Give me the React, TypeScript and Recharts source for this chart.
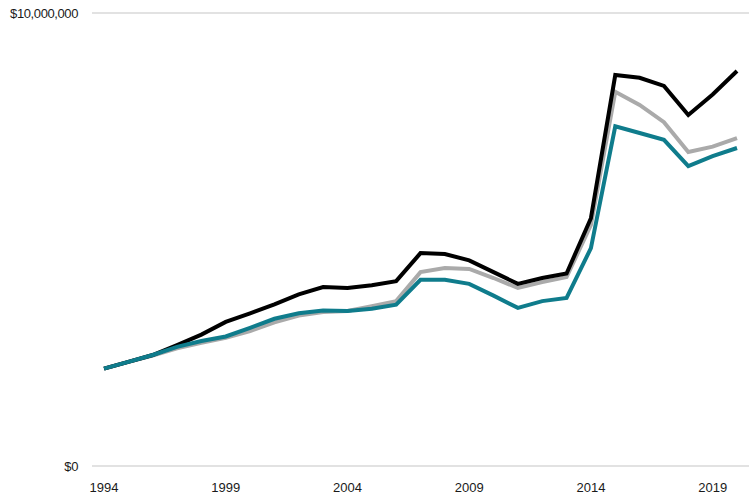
import { LineChart, Line, XAxis, YAxis, CartesianGrid } from 'recharts'

const years = [
  1994, 1995, 1996, 1997, 1998, 1999, 2000, 2001, 2002, 2003, 2004, 2005, 2006, 2007,
  2008, 2009, 2010, 2011, 2012, 2013, 2014, 2015, 2016, 2017, 2018, 2019, 2020,
]

// values in millions of dollars
const blackSeries = [
  2.15, 2.3, 2.45, 2.67, 2.9, 3.18, 3.37, 3.57, 3.79, 3.95, 3.93, 3.99, 4.08, 4.7,
  4.68, 4.54, 4.28, 4.02, 4.15, 4.25, 5.47, 8.63, 8.57, 8.39, 7.75, 8.2, 8.72,
]
const graySeries = [
  2.15, 2.3, 2.44, 2.6, 2.72, 2.83, 2.98, 3.17, 3.32, 3.4, 3.42, 3.53, 3.64, 4.28,
  4.37, 4.35, 4.15, 3.93, 4.06, 4.17, 5.32, 8.26, 7.97, 7.59, 6.93, 7.05, 7.24,
]
const tealSeries = [
  2.15, 2.3, 2.45, 2.63, 2.76, 2.86, 3.05, 3.25, 3.37, 3.43, 3.42, 3.47, 3.56, 4.11,
  4.11, 4.02, 3.76, 3.49, 3.64, 3.71, 4.81, 7.5, 7.35, 7.2, 6.62, 6.84, 7.02,
]

const yTicks = [0, 10000000]

const data = years.map((y, i) => ({
  year: String(y),
  black: blackSeries[i] * 1e6,
  gray: graySeries[i] * 1e6,
  teal: tealSeries[i] * 1e6,
}))

const font = '"Liberation Sans", Arial, sans-serif'
const xTickStyle = { fontSize: 13, fill: '#1a1a1a', fontFamily: font }
const yTickStyle = { fontSize: 13, fill: '#1a1a1a', fontFamily: font, letterSpacing: -0.4 }

function fmtMoney(v: number) {
  return '$' + v.toLocaleString('en-US')
}

export default function App() {
  return (
    <div style={{ position: 'absolute', left: 0, top: 0, background: '#fff' }}>
      <LineChart
        width={749}
        height={504}
        data={data}
        margin={{ top: 13, right: 0, bottom: 0, left: 0 }}
      >
        <CartesianGrid vertical={false} stroke="#d9d9d9" strokeWidth={1.5} />
        <XAxis
          dataKey="year"
          interval={4}
          axisLine={false}
          tickLine={false}
          tickSize={0}
          tickMargin={17}
          height={38}
          padding={{ left: 12, right: 12 }}
          tick={xTickStyle}
        />
        <YAxis
          domain={[0, 10000000]}
          ticks={yTicks}
          width={92}
          axisLine={false}
          tickLine={false}
          tickSize={0}
          tickMargin={14}
          tickFormatter={fmtMoney}
          tick={yTickStyle}
        />
        <Line
          type="linear"
          dataKey="gray"
          stroke="#aaaaaa"
          strokeWidth={4}
          dot={false}
          isAnimationActive={false}
        />
        <Line
          type="linear"
          dataKey="black"
          stroke="#000000"
          strokeWidth={4}
          dot={false}
          isAnimationActive={false}
        />
        <Line
          type="linear"
          dataKey="teal"
          stroke="#0f7c8c"
          strokeWidth={4}
          dot={false}
          isAnimationActive={false}
        />
      </LineChart>
    </div>
  )
}
